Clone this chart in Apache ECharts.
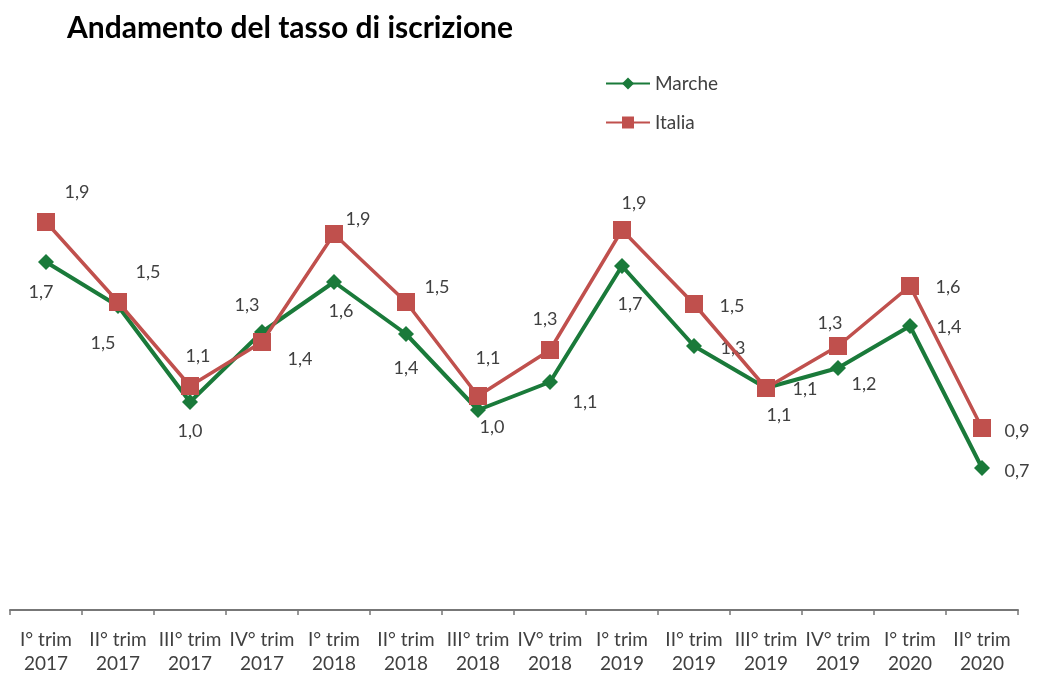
<!DOCTYPE html>
<html>
<head>
<meta charset="utf-8">
<script src="https://cdn.jsdelivr.net/npm/echarts@6/dist/echarts.min.js"></script>
<style>
html,body{margin:0;padding:0;background:#fff;}
#chart{width:1037px;height:675px;}
</style>
</head>
<body>
<div id="chart"></div>
<script>
var categories = ["I° trim\n2017","II° trim\n2017","III° trim\n2017","IV° trim\n2017",
                  "I° trim\n2018","II° trim\n2018","III° trim\n2018","IV° trim\n2018",
                  "I° trim\n2019","II° trim\n2019","III° trim\n2019","IV° trim\n2019",
                  "I° trim\n2020","II° trim\n2020"];
var marche = [1.74, 1.52, 1.04, 1.39, 1.64, 1.38, 1.00, 1.14, 1.72, 1.32, 1.11, 1.21, 1.42, 0.71];
var italia = [1.94, 1.54, 1.12, 1.34, 1.88, 1.54, 1.07, 1.30, 1.90, 1.53, 1.11, 1.32, 1.62, 0.91];

// label placement (style only)
var marcheLabelOffsets = [[-5,30],[-15,37],[0,29],[38,27],[7,29],[0,34],[14,17],[35,20],[8,38],[39,2],[39,1],[26,16],[39,1],[35,3]];
var italiaLabelOffsets = [[31,-30],[30,-30],[8,-30],[-15,-37],[24,-15],[31,-15],[10,-38],[-5,-31],[12,-27],[38,2],[13,27],[-8,-23],[38,1],[35,3]];

function fmt(p){ return p.value.toFixed(1).replace('.', ','); }
function withLabels(vals, offs){
  return vals.map(function(v,i){ return {value:v, label:{offset:offs[i]}}; });
}

var FONT = 'Lato, "Open Sans", sans-serif';
var chart = echarts.init(document.getElementById('chart'));
var labelStyle = {show:true, position:'inside', formatter:fmt, color:'#404040',
  fontSize:18, fontFamily:FONT};
chart.setOption({
  animation:false,
  title:{text:'Andamento del tasso di iscrizione', left:62, top:8,
    textStyle:{fontFamily:FONT, fontWeight:'bold', fontSize:30, color:'#000'}},
  legend:{orient:'vertical', left:600, top:69, itemGap:20, itemWidth:44, itemHeight:15,
    textStyle:{fontFamily:FONT, fontSize:19, color:'#404040'},
    data:['Marche','Italia']},
  grid:{left:10, right:19, top:110, bottom:65, containLabel:false, outerBoundsMode:'none'},
  xAxis:{type:'category', data:categories, boundaryGap:true,
    axisLine:{lineStyle:{color:'#777', width:2}},
    axisTick:{show:true, length:5, lineStyle:{color:'#777', width:1.5}},
    axisLabel:{interval:0, margin:18, color:'#404040', fontSize:19, lineHeight:24,
      fontFamily:FONT}},
  yAxis:{type:'value', min:0, max:2.5, show:false, splitLine:{show:false}},
  series:[
    {name:'Marche', type:'line', data:withLabels(marche, marcheLabelOffsets),
     symbol:'diamond', symbolSize:16, itemStyle:{color:'#1a7a3a'},
     lineStyle:{color:'#1a7a3a', width:4}, label:labelStyle, z:2},
    {name:'Italia', type:'line', data:withLabels(italia, italiaLabelOffsets),
     symbol:'rect', symbolSize:18, itemStyle:{color:'#c0504d'},
     lineStyle:{color:'#c0504d', width:3.5}, label:labelStyle, z:3}
  ]
});
</script>
</body>
</html>
